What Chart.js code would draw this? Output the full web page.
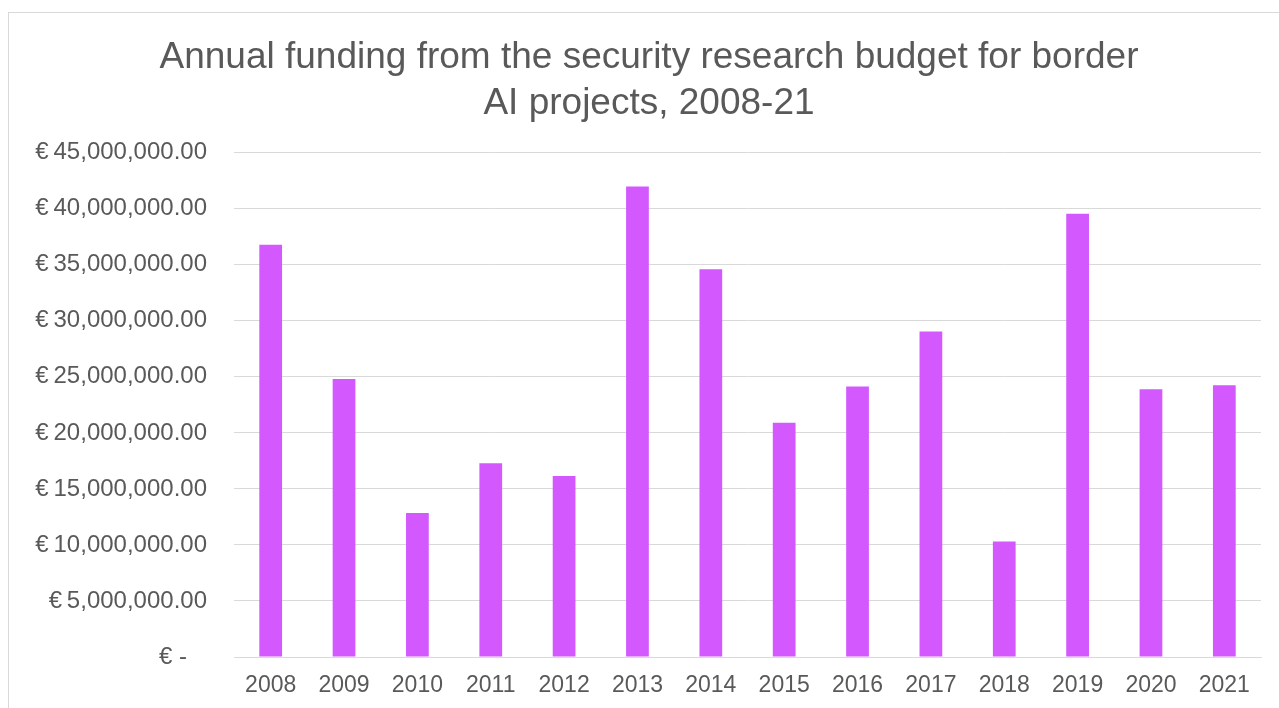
<!DOCTYPE html>
<html>
<head>
<meta charset="utf-8">
<script src="https://cdn.jsdelivr.net/npm/chart.js@4"></script>
<style>
    html, body { margin: 0; padding: 0; background: #fff; overflow: hidden; }
    #frame { position: absolute; left: 8px; top: 12px; width: 1300px; height: 720px; border: 1px solid #d9d9d9; }
    #wrap { position: absolute; left: 0; top: 0; width: 1298px; height: 708px; }
</style>
</head>
<body>
<div id="frame"></div>
<div id="wrap"><canvas id="fundingChart" width="1298" height="708"></canvas></div>
<script>
const years = ['2008', '2009', '2010', '2011', '2012', '2013', '2014', '2015', '2016', '2017', '2018', '2019', '2020', '2021'];
const funding = [36800000, 24800000, 12850000, 17300000, 16150000, 42000000, 34600000, 20900000, 24150000, 29050000, 10300000, 39550000, 23900000, 24250000];
const titleLines = ['Annual funding from the security research budget for border', 'AI projects, 2008-21'];

const textColor = '#595959';
const gridColor = '#d9d9d9';

function euro(value) {
    if (value === 0) return '€ -   ';
    return '€\u2009' + value.toLocaleString('en-US', { minimumFractionDigits: 2, maximumFractionDigits: 2 });
}

const ctx = document.getElementById('fundingChart').getContext('2d');
new Chart(ctx, {
    type: 'bar',
    data: {
        labels: years,
        datasets: [{
            data: funding,
            backgroundColor: '#d359ff',
            borderWidth: 0,
            categoryPercentage: 1,
            barPercentage: 0.31
        }]
    },
    options: {
        responsive: false,
        animation: false,
        layout: { padding: 0 },
        plugins: {
            legend: { display: false },
            tooltip: { enabled: false },
            title: {
                display: true,
                text: titleLines,
                color: textColor,
                font: { family: 'Liberation Sans, Arial, sans-serif', size: 37, weight: 'normal', lineHeight: 1.24 },
                padding: { top: 35, bottom: 26 }
            }
        },
        scales: {
            x: {
                grid: { display: false, drawTicks: false },
                border: { display: true, color: gridColor, width: 1 },
                ticks: {
                    color: textColor,
                    font: { family: 'Liberation Sans, Arial, sans-serif', size: 23 },
                    padding: 15,
                    maxRotation: 0
                },
                afterFit: function(scale) { scale.height = 51; }
            },
            y: {
                min: 0,
                max: 45000000,
                grid: { color: gridColor, lineWidth: 1, drawTicks: false },
                border: { display: false },
                ticks: {
                    stepSize: 5000000,
                    color: textColor,
                    font: { family: 'Liberation Sans, Arial, sans-serif', size: 24 },
                    padding: 27,
                    callback: function(value) { return euro(value); }
                },
                afterFit: function(scale) { scale.width = 234; }
            },
            // empty right-hand axis, only reserves the space right of the plot
            yRight: {
                position: 'right',
                min: 0,
                max: 45000000,
                grid: { display: false, drawTicks: false },
                border: { display: false },
                ticks: { display: false },
                afterFit: function(scale) { scale.width = 37; }
            }
        }
    }
});
</script>
</body>
</html>
